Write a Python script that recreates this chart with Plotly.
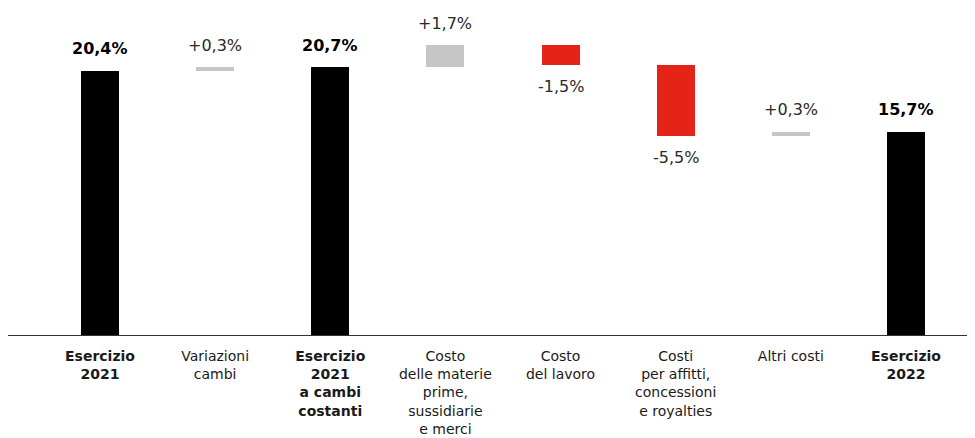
import plotly.graph_objects as go

# Dati del grafico a cascata (EBITDA margin)
categories = [
    "<b>Esercizio<br>2021</b>",
    "Variazioni<br>cambi",
    "<b>Esercizio<br>2021<br>a cambi<br>costanti</b>",
    "Costo<br>delle materie<br>prime,<br>sussidiarie<br>e merci",
    "Costo<br>del lavoro",
    "Costi<br>per affitti,<br>concessioni<br>e royalties",
    "Altri costi",
    "<b>Esercizio<br>2022</b>",
]
values = [20.4, 0.3, 20.7, 1.7, -1.5, -5.5, 0.3, 15.7]
measures = ["total", "relative", "total", "relative", "relative", "relative", "relative", "total"]
labels = ["20,4%", "+0,3%", "20,7%", "+1,7%", "-1,5%", "-5,5%", "+0,3%", "15,7%"]

BLACK = "#000000"
GREY = "#c6c6c6"
RED = "#e32416"
FONT = "DejaVu Sans"

# calcolo base e altezza di ogni barra
bases, heights, colors = [], [], []
level = 0.0
for v, m in zip(values, measures):
    if m == "total":
        bases.append(0)
        heights.append(v)
        colors.append(BLACK)
        level = v
    else:
        bases.append(level)
        heights.append(v)
        colors.append(GREY if v > 0 else RED)
        level += v

x = list(range(len(categories)))

fig = go.Figure()
fig.add_trace(go.Bar(
    x=x, y=heights, base=bases,
    marker=dict(color=colors, line=dict(width=0)),
    width=0.33, hoverinfo="skip",
))

# etichette dei valori sopra/sotto le barre
for i, (b, h, m, lab) in enumerate(zip(bases, heights, measures, labels)):
    shift = 22 if h >= 0 else -22
    bold = m == "total"
    fig.add_annotation(
        x=i, y=b + h, yshift=shift, text=f"<b>{lab}</b>" if bold else lab,
        showarrow=False,
        font=dict(family=FONT, size=16, color="#000000" if bold else "#2a2a2a"),
    )

# la pagina ha un margine di 8px: il grafico è spostato di conseguenza
fig.update_layout(
    width=975, height=438,
    margin=dict(l=0, r=0, t=12, b=111),
    plot_bgcolor="white", paper_bgcolor="white",
    showlegend=False,
    font=dict(family=FONT, color="#1a1a1a"),
    bargap=0,
)
fig.update_xaxes(
    range=[-0.799, 7.669],
    tickvals=x, ticktext=categories,
    tickfont=dict(family=FONT, size=14, color="#1a1a1a"),
    ticklabelstandoff=8,
    showline=True, linecolor="#333333", linewidth=1.2,
    showgrid=False, zeroline=False, ticks="",
)
fig.update_yaxes(range=[0, 24.34], visible=False, showgrid=False, zeroline=False)

fig.write_html("out.html")
